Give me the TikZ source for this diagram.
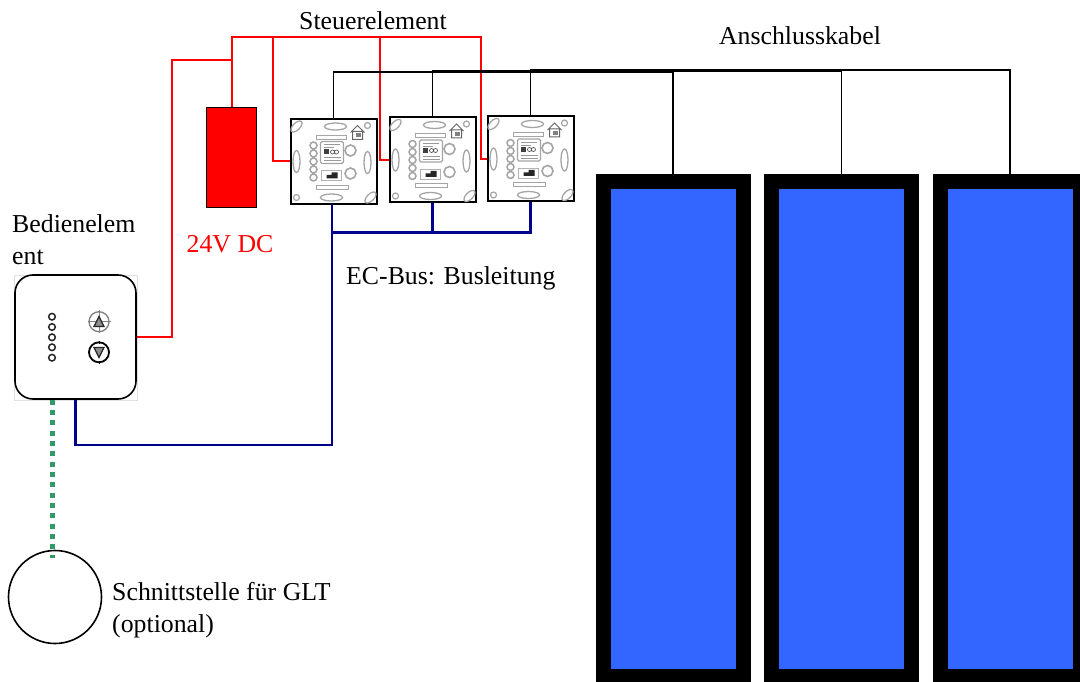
\documentclass[tikz,border=0pt]{standalone}
\usepackage{fontspec}
\setmainfont{Liberation Serif}
\usepackage{xcolor}
\usetikzlibrary{arrows.meta,positioning,shapes.geometric,fit,calc}
\definecolor{panelblue}{RGB}{51,102,255}
\definecolor{busnavy}{RGB}{0,0,140}
\definecolor{gltgreen}{RGB}{51,153,102}
\definecolor{powerred}{RGB}{255,0,0}
\definecolor{printgray}{RGB}{165,165,165}

\tikzset{
  labeltext/.style={font=\fontsize{25.8}{32}\selectfont, inner sep=0pt, align=left},
  cablered/.style={draw=powerred, line width=2pt},
  cablebus/.style={draw=busnavy, line width=2.3pt},
  cableblack/.style={draw=black, line width=1.7pt},
  cablegreen/.style={draw=gltgreen, line width=5pt, dash pattern=on 5pt off 5.35pt},
  modulebox/.style={draw=black, fill=white, line width=2pt, inner sep=0pt,
    minimum width=86pt, minimum height=85pt},
  panelbox/.style={draw=black, fill=panelblue, line width=15.5pt, inner sep=0pt,
    minimum width=140pt, minimum height=495pt},
  moduledetail/.pic={
    % screw holes and keyholes
    \draw[printgray, line width=1.3pt] (-37,-35) ellipse[x radius=7, y radius=3.5, rotate=45];
    \draw[printgray, line width=1.3pt] (37,36) ellipse[x radius=7, y radius=3.5, rotate=45];
    \draw[printgray, line width=1.2pt] (34,-36) circle (3) (-37,36) circle (3);
    \draw[printgray, line width=1.3pt] (2,-35) ellipse (11 and 3.5) (-2,36) ellipse (11 and 3.5);
    \draw[printgray, line width=1.3pt] (-37,0) ellipse (3.5 and 11) (34,1) ellipse (3.5 and 11);
    % top and bottom bars
    \draw[printgray, line width=1pt] (-17,-26) rectangle (13,-22) (-17,24) rectangle (15,28);
    % house
    \draw[black!60, line width=1pt] (17,-29) -- (24,-36) -- (31,-29) (19,-30) rectangle (29,-22);
    \fill[black!50] (22,-28) rectangle (27,-24);
    % display
    \draw[printgray, line width=1.2pt, rounded corners=1.5] (-13,-20) rectangle (10,2);
    \fill[black!75] (-10,-12) rectangle (-5,-7);
    \draw[black!40, line width=0.7pt] (-10,-17) -- (6,-17) (-10,-14) -- (0,-14)
      (-10,-4) -- (7,-4) (-10,-1) -- (7,-1);
    \draw[black!65, line width=0.7pt] (-1,-9.5) circle (2) (3,-9.5) circle (2);
    % leds and knobs
    \draw[printgray, line width=1.5pt] (-20,-16) circle (3.5) (-20,-8) circle (3.5)
      (-20,0) circle (3.5) (-20,8) circle (3.5) (-20,16) circle (3.5);
    \draw[printgray, line width=1.6pt] (17,-11) circle (5.5) (17,12) circle (5.5);
    % terminal block
    \draw[black!30, line width=0.7pt] (-12,9) rectangle (8,19);
    \fill[black!85] (-7,13.5) rectangle (4,17) (-2,11) rectangle (4,13.5);
  },
}

\begin{document}
\begin{tikzpicture}[x=1pt, y=-1pt, >=Stealth]
  \useasboundingbox (0,0) rectangle (1080,682);

  % Blue panels on the right
  \node[panelbox] (panelA) at (673.25,429.25) {};
  \node[panelbox] (panelB) at (841.5,429.25) {};
  \node[panelbox] (panelC) at (1010.25,429.25) {};

  % Control modules
  \node[modulebox] (moduleA) at (333.5,161.5) {};
  \node[modulebox] (moduleB) at (432.5,160) {};
  \node[modulebox] (moduleC) at (530.5,159) {};
  \pic at (moduleA) {moduledetail};
  \pic at (moduleB) {moduledetail};
  \pic at (moduleC) {moduledetail};

  % Power supply
  \node[draw=black, fill=powerred, line width=1.8pt, inner sep=0pt,
    minimum width=50pt, minimum height=100pt] (supply) at (231.5,157.5) {};

  % Operating unit
  \draw[black!12, line width=0.8pt] (14,275) rectangle (137,400);
  \node[draw=black, fill=white, line width=1.6pt, rounded corners=18pt, inner sep=0pt,
    minimum width=121pt, minimum height=124pt] (panelunit) at (75.5,337) {};
  % leds
  \draw[black!85, line width=1.5pt] (52,316.7) circle (3.3) (52,327) circle (3.3)
    (52,337.3) circle (3.3) (52,347.3) circle (3.3) (52,357.7) circle (3.3);
  % up button
  \draw[black!50, line width=1.3pt] (99,321.7) circle (10);
  \draw[black!50, line width=0.9pt] (99,310.2) -- (99,333.2) (87.5,321.7) -- (110.5,321.7);
  \draw[black!85, fill=black!45, line width=1.3pt] (94,326.5) -- (104,326.5) -- (99,316.5) -- cycle;
  % down button
  \draw[black, line width=1.8pt] (99,352.3) circle (10);
  \draw[black, line width=0.9pt] (99,340.8) -- (99,344) (99,360.6) -- (99,363.8);
  \draw[black!85, fill=black!45, line width=1.3pt] (94,347.5) -- (104,347.5) -- (99,357.5) -- cycle;

  % Interface circle
  \node[circle, draw=black, line width=1.6pt, inner sep=0pt, minimum size=93pt] (gltport) at (55,597) {};

  % Junctions
  \coordinate (redbend) at (172,60);
  \coordinate (redjoin) at (231.5,60);
  \coordinate (redtop) at (231.5,37);
  \coordinate (redfirst) at (273,37);
  \coordinate (redsecond) at (380,37);
  \coordinate (redthird) at (481,37);
  \coordinate (busstart) at (332,204);
  \coordinate (busfirst) at (332,232.5);
  \coordinate (bussecond) at (432.5,232.5);
  \coordinate (buscorner) at (332,445);
  \coordinate (greenstart) at (52.5,399.5);
  \coordinate (greenend) at (52.5,558);

  % Red supply wiring
  \draw[cablered] (panelunit.east) -| (redbend) -- (redjoin);
  \draw[cablered] (supply.north) -- (redtop) -- (redthird) |- (moduleC.west);
  \draw[cablered] (redfirst) |- (moduleA.west);
  \draw[cablered] (redsecond) |- (moduleB.west);

  % Connection cables, each module to its panel
  \draw[cableblack] (moduleA.north) |- (333.5,72) -| (panelA.north);
  \draw[cableblack] (moduleB.north) |- (432.5,71) -| (panelB.north);
  \draw[cableblack] (moduleC.north) |- (530.5,70) -| (panelC.north);

  % EC bus
  \draw[cablebus] (busstart) -- (busfirst) -- (bussecond) -- (moduleB.south);
  \draw[cablebus] (bussecond) -| (moduleC.south);
  \draw[cablebus] (busfirst) -- (buscorner) -| (panelunit.south);

  % Optional link
  \draw[cablegreen] (greenstart) -- (greenend);

  % Labels
  \node[labeltext] (steuerlabel) at (373,21) {Steuerelement};
  \node[labeltext] (kabellabel) at (800,36) {Anschlusskabel};
  \node[labeltext, anchor=west] (bedienlabel) at (12,240) {Bedienelem\\ent};
  \node[labeltext, text=powerred] (dclabel) at (230,244) {24V DC};
  \node[labeltext, anchor=west] (buslabel) at (346,278) {EC-Bus: Busleitung};
  \node[labeltext, anchor=west] (gltlabel) at (112,610.5) {Schnittstelle für GLT\\(optional)};
\end{tikzpicture}
\end{document}
